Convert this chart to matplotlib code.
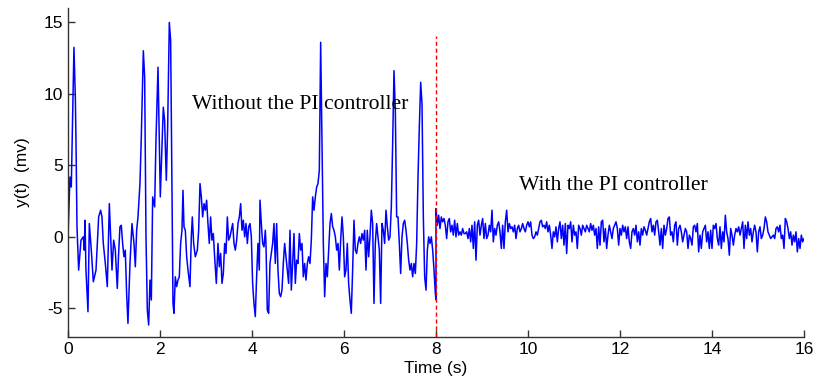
import numpy as np
import matplotlib
matplotlib.use("Agg")
import matplotlib.pyplot as plt

plt.rcParams['axes.unicode_minus'] = False

# open-loop part (0-8 s): time (s), y (mV)
t_open = [0.0, 0.043, 0.072, 0.13, 0.16, 0.174, 0.196, 0.232, 0.283, 0.333, 0.355, 0.370,
          0.391, 0.435, 0.464, 0.507, 0.551, 0.609, 0.645, 0.667, 0.71, 0.739, 0.768, 0.812,
          0.855, 0.899, 0.928, 0.957, 0.993, 1.029, 1.072, 1.101, 1.13, 1.159, 1.188, 1.217,
          1.246, 1.275, 1.304, 1.348, 1.391, 1.435, 1.464, 1.493, 1.522, 1.565, 1.594, 1.638,
          1.667, 1.696, 1.725, 1.754, 1.783, 1.812, 1.841, 1.884, 1.913, 1.957, 2.007, 2.072,
          2.101, 2.138, 2.167, 2.203, 2.232, 2.261, 2.283, 2.304, 2.333, 2.362, 2.391, 2.42,
          2.449, 2.478, 2.5, 2.522, 2.551, 2.58, 2.609, 2.652, 2.681, 2.703, 2.732, 2.768,
          2.812, 2.841, 2.87, 2.899, 2.928, 2.957, 2.986, 3.014, 3.043, 3.072, 3.101, 3.13,
          3.159, 3.188, 3.225, 3.261, 3.29, 3.319, 3.348, 3.377, 3.406, 3.435, 3.464, 3.493,
          3.522, 3.551, 3.58, 3.609, 3.638, 3.667, 3.696, 3.725, 3.754, 3.783, 3.812, 3.841,
          3.87, 3.899, 3.928, 3.957, 3.986, 4.014, 4.043, 4.072, 4.101, 4.13, 4.159, 4.174,
          4.203, 4.232, 4.261, 4.29, 4.304, 4.333, 4.362, 4.391, 4.42, 4.449, 4.478, 4.507,
          4.536, 4.565, 4.594, 4.623, 4.652, 4.681, 4.71, 4.739, 4.768, 4.797, 4.826, 4.855,
          4.884, 4.913, 4.942, 4.971, 5.0, 5.029, 5.058, 5.087, 5.116, 5.145, 5.174, 5.203,
          5.232, 5.261, 5.29, 5.319, 5.348, 5.377, 5.406, 5.435, 5.464, 5.493, 5.522, 5.551,
          5.58, 5.609, 5.638, 5.667, 5.696, 5.725, 5.754, 5.783, 5.812, 5.841, 5.87, 5.899,
          5.928, 5.957, 5.986, 6.014, 6.043, 6.072, 6.101, 6.13, 6.159, 6.188, 6.217, 6.246,
          6.275, 6.304, 6.333, 6.362, 6.391, 6.42, 6.449, 6.478, 6.507, 6.536, 6.565, 6.594,
          6.623, 6.652, 6.681, 6.71, 6.739, 6.768, 6.797, 6.826, 6.855, 6.884, 6.913, 6.942,
          6.971, 7.0, 7.029, 7.058, 7.087, 7.116, 7.145, 7.174, 7.203, 7.232, 7.261, 7.29,
          7.319, 7.348, 7.377, 7.406, 7.435, 7.464, 7.493, 7.522, 7.551, 7.58, 7.609, 7.638,
          7.667, 7.696, 7.725, 7.754, 7.783, 7.812, 7.841, 7.87, 7.899, 7.928, 7.957, 7.986,
          8.0]
y_open = [0.0, 4.18, 3.48, 13.24, 9.76, 6.74, 0.70, -2.32, -0.23, 0.0, -0.93, 1.16,
          -2.32, -5.23, 0.93, -0.93, -3.14, -2.32, 0.0, 1.39, 1.86, 1.39, -0.46, -1.86,
          -3.48, 2.32, 0.0, -2.32, -0.23, -0.93, -3.60, -1.16, 0.70, 0.81, -0.46, -1.39,
          -0.93, -3.95, -6.04, -1.86, 0.93, -0.46, -2.09, 0.46, 1.39, 3.72, 6.97, 13.0,
          11.15, 0.0, -5.11, -6.16, -3.02, -4.41, 2.79, 2.09, 6.74, 11.85, 2.79, 9.06,
          8.13, 3.95, 7.67, 14.98, 13.7, 3.72, -4.65, -5.34, -2.79, -3.48, -3.02, -2.79,
          -0.46, 0.46, 3.25, 0.70, 0.46, -1.39, -2.32, -3.48, 0.0, 1.39, -0.46, -1.39,
          -0.93, 0.46, 3.72, 2.79, 1.39, 2.32, 1.86, 2.56, 0.93, -0.46, 1.39, -0.23,
          0.23, -1.39, -3.25, -0.46, -2.09, -1.16, -3.25, -2.56, -0.46, -1.16, 1.39, -0.23,
          0.0, 0.46, 0.93, -0.46, -0.93, -0.23, 0.93, 1.39, 2.32, 0.46, 1.16, 0.0,
          0.93, -0.46, 0.70, 0.93, 0.0, -3.25, -4.65, -5.57, -2.79, -0.46, -2.32, 2.56,
          0.93, -0.46, -0.70, 0.46, -0.46, -5.11, -5.34, -1.86, -1.16, -0.46, 0.93, -1.86,
          0.93, -2.32, -3.95, -4.18, -3.72, -1.86, -0.46, -1.39, -2.32, -3.25, 0.46, -3.72,
          -1.86, 0.23, -3.25, -1.63, -1.86, 0.23, -0.93, -0.46, -2.79, -1.86, -3.02, -1.86,
          -1.39, -1.86, -0.23, 2.79, 1.86, 2.79, 3.48, 3.72, 4.65, 13.59, 6.5, -0.46,
          -4.18, -1.86, -2.79, -0.93, 0.93, 1.63, 0.70, 0.46, 0.0, -0.93, -0.46, -2.32,
          -0.23, 1.39, 0.0, -2.79, -2.32, -0.46, -3.25, -4.41, -5.34, -2.32, 1.16, -0.93,
          -1.16, -0.46, 0.0, -0.46, 0.23, -0.23, 0.46, -2.32, 0.46, -1.39, 0.0, 1.86,
          0.93, -4.65, -0.46, 0.93, 0.0, -0.93, -4.65, 0.93, 0.46, -0.46, 1.86, 0.70,
          -0.23, 0.0, 2.09, 6.5, 11.61, 8.83, 1.39, 1.39, -0.46, -2.56, 0.0, 0.93,
          1.16, 0.46, -0.46, -1.63, -2.32, -1.86, -2.79, -1.86, -2.56, -0.46, 4.18, 7.67,
          10.8, 9.29, 1.39, -2.79, -3.72, -0.93, 0.0, -0.46, 0.0, -0.93, -2.32, -3.95,
          -4.4]

# closed-loop part (8-16 s), evenly sampled readings in mV
y_pi = [1.97, 0.81, 1.51, 0.58, 1.39, 1.05, 1.28, 0.81, -0.12, 1.05, 1.28, 0.35,
        0.81, 0.12, 1.16, 0.0, 0.93, 0.12, 0.35, 0.12, 0.58, 0.23, 0.23, 0.35,
        -0.12, 0.58, -0.35, 0.81, -0.81, 1.05, -1.63, 0.81, 1.16, 0.12, 0.81, 1.28,
        -0.12, 0.93, -0.12, 0.12, 0.81, 0.35, 1.86, -0.35, 0.58, 0.12, 0.81, 1.05,
        0.35, -0.81, 0.81, -0.81, 1.05, 1.86, 0.35, 0.93, 0.58, 0.70, 0.35, 0.81,
        -0.12, 0.58, 0.81, 0.35, 0.58, 0.93, 0.58, 0.35, 0.81, 1.05, 0.70, 1.05,
        0.12, -0.12, 0.0, 0.35, 0.12, 0.58, 1.05, 1.16, 0.70, 0.81, 0.58, 1.05,
        0.35, 0.81, 0.12, -0.81, 0.35, 0.0, 0.70, -0.35, 0.58, 1.05, -0.12, 0.81,
        -0.58, 0.93, -1.16, 0.81, 0.58, 1.05, -0.35, 0.81, 0.12, 0.35, -0.81, 0.81,
        0.58, 0.12, 0.81, 0.58, 0.35, 0.81, 0.58, 0.35, 0.93, 0.46, 0.81, 0.12,
        0.58, -0.81, 0.70, -0.58, 1.05, 1.16, -0.35, 0.58, -0.81, 0.12, 0.81, 0.35,
        -0.12, 0.58, 0.81, 1.05, 0.58, -0.58,
        0.58, 0.12, 0.81, 0.35, 0.70, -0.12, 0.70, -0.35, -0.81, 0.35, 0.58, 0.12,
        0.81, -0.35, 0.35, -0.58, 0.58, 0.12, 0.70, 0.46, 0.12, 0.58, 1.05, 1.28,
        0.35, 0.81, 0.12, 1.05, 1.16, 0.35, -0.58, 0.58, -0.81, 0.81, 0.12, 0.58,
        1.28, 1.39, 0.12, 0.35, -0.35, 0.81, 1.05, -0.58, 0.58, 0.81, 0.35, -0.35,
        0.12, 0.58, 0.35, -0.81, 0.12, -0.12, -0.58, 0.70, 0.81, 0.35, 0.93, -1.05,
        0.12, -0.81, 0.35, 0.58, 0.81, -0.35, 0.35, -0.81, 0.46, -0.81, 0.81, 0.58,
        0.93, -0.12, -0.58, 0.70, -0.81, 0.35, -0.35, 1.51, 0.35, -0.12, -1.28, 0.58,
        0.12, -0.58, 0.12, 0.58, 0.35, 0.70, 0.12, 0.58, 1.05, -0.81, 0.81, -0.12,
        1.05, 0.12, 0.58, -0.35, 0.35, 0.81, 0.35, -1.05, 0.35, 0.70, -0.12, 0.12,
        0.58, 1.39, 1.05, 0.35, 0.12, -0.12, 0.0, 0.12, -0.12, 0.58, 0.70, 0.35,
        0.81, -0.12, 0.12, -0.81, 1.28, 1.05, 0.58, -0.12, 0.35, -0.58, 0.12, -0.35,
        0.35, -1.05, -0.12, -0.81, 0.12, -0.35, -0.12]
t_pi = np.linspace(8.0, 16.0, len(y_pi))

t = np.concatenate([t_open, t_pi])
y = np.concatenate([y_open, y_pi])

fig = plt.figure(figsize=(8.16, 3.91), dpi=100)
ax = fig.add_axes([0.0833, 0.138, 0.902, 0.842])

ax.plot(t, y, color='#0000ff', lw=1.1)
ax.plot([8, 8], [-7, 14], color='#ff0000', lw=1.0, ls=(0, (3, 2)))

ax.set_xlim(0, 16)
ax.set_ylim(-7, 16)
ax.set_xticks([0, 2, 4, 6, 8, 10, 12, 14, 16])
ax.set_yticks([-5, 0, 5, 10, 15])

for s in ['top', 'right']:
    ax.spines[s].set_visible(False)
for s in ['left', 'bottom']:
    ax.spines[s].set_color('#333333')
    ax.spines[s].set_linewidth(1.0)

ax.tick_params(direction='in', length=5, width=1, colors='#333333', labelcolor='black')
for lab in ax.get_xticklabels() + ax.get_yticklabels():
    lab.set_fontfamily('Liberation Sans')
    lab.set_fontsize(12.5)

ax.set_xlabel('Time (s)', fontfamily='Liberation Sans', fontsize=12.5, labelpad=3)
ax.set_ylabel('y(t)  (mv)', fontfamily='Liberation Sans', fontsize=12.5, labelpad=10)

ax.text(2.7, 9.25, 'Without the PI controller', fontfamily='Liberation Serif',
        fontsize=15.6, va='center', ha='left')
ax.text(9.8, 3.6, 'With the PI controller', fontfamily='Liberation Serif',
        fontsize=15.6, va='center', ha='left')

fig.savefig('out.png', dpi=100)
